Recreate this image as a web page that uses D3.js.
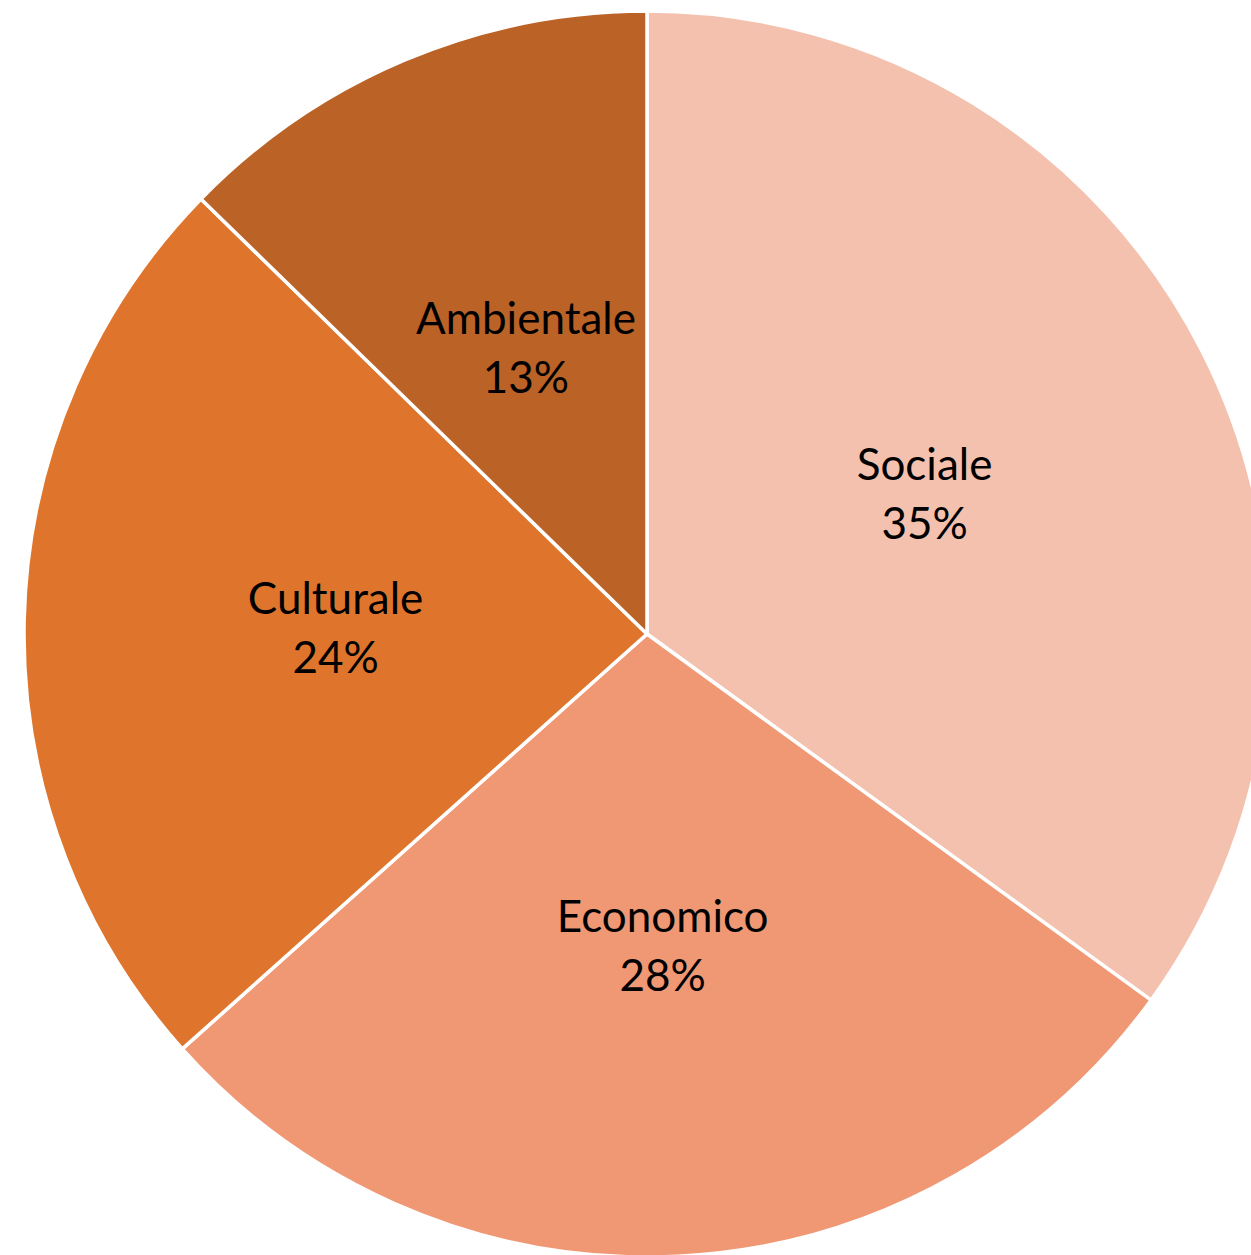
<!DOCTYPE html>
<html>
<head>
<meta charset="utf-8">
<script src="https://cdn.jsdelivr.net/npm/d3@7"></script>
<style>
  body { margin: 0; background: #fff; }
  .lbl { font-family: Lato, "Open Sans", sans-serif; font-size: 44px; fill: #000; }
</style>
</head>
<body>
<script>
// slice data, clockwise from the top
var categories = ["Sociale", "Economico", "Culturale", "Ambientale"];
var shares = [35.0, 28.4, 23.9, 12.7];
var colors = ["#F4C1AE", "#F09874", "#DF752D", "#BB6227"];

var svgWidth = 1251;
var svgHeight = 1255;
var cx = 647, cy = 634;
var radius = 623;

var svg = d3.select("body")
  .append("svg")
  .attr("width", svgWidth)
  .attr("height", svgHeight);

var chartGroup = svg.append("g")
  .attr("transform", `translate(${cx}, ${cy})`);

var data = categories.map(function(c, i) {
  return { name: c, value: shares[i], color: colors[i] };
});

var pie = d3.pie()
  .sort(null)
  .value(d => d.value);

var arc = d3.arc()
  .innerRadius(0)
  .outerRadius(radius);

var labelArc = d3.arc()
  .innerRadius(radius * 0.5)
  .outerRadius(radius * 0.5);

var arcs = pie(data);

chartGroup.selectAll("path")
  .data(arcs)
  .enter()
  .append("path")
  .attr("d", arc)
  .attr("fill", d => d.data.color)
  .attr("stroke", "#fff")
  .attr("stroke-width", 3.5)
  .attr("stroke-linejoin", "round");

// labels: name + rounded percent
var total = d3.sum(shares);
var labels = chartGroup.selectAll(".lbl")
  .data(arcs)
  .enter()
  .append("text")
  .attr("class", "lbl")
  .attr("text-anchor", "middle")
  .attr("transform", d => `translate(${labelArc.centroid(d)})`);

labels.append("tspan")
  .attr("x", 0)
  .attr("y", -13)
  .text(d => d.data.name);

labels.append("tspan")
  .attr("x", 0)
  .attr("y", 46)
  .text(d => Math.round(d.data.value / total * 100) + "%");
</script>
</body>
</html>
